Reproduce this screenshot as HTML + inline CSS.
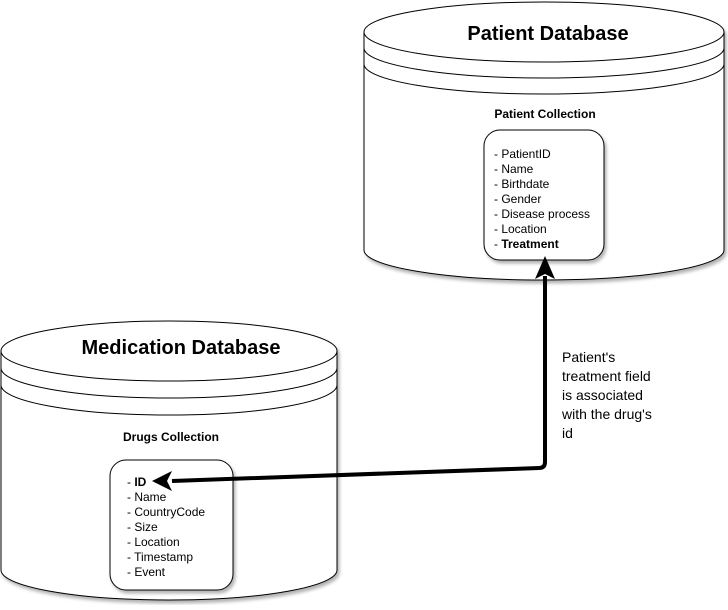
<!DOCTYPE html>
<html><head><style>body{margin:0;background:#fff}</style></head><body>
<svg width="728" height="605" viewBox="0 0 728 605" xmlns="http://www.w3.org/2000/svg" font-family="Liberation Sans, sans-serif">
<defs><filter id="s" x="-5%" y="-5%" width="115%" height="115%"><feDropShadow dx="2" dy="3" stdDeviation="1.5" flood-opacity="0.3"/></filter></defs>
<g fill="#fff" stroke="#000" stroke-width="1">
<g filter="url(#s)">
<path d="M364,32 A180,30 0 0 1 724,32 L724,250 A180,30 0 0 1 364,250 Z"/>
</g>
<path d="M364,32 A180,30 0 0 0 724,32" fill="none"/>
<path d="M364,48 A180,30 0 0 0 724,48" fill="none"/>
<path d="M364,64 A180,30 0 0 0 724,64" fill="none"/>
<g filter="url(#s)">
<path d="M1,351 A168,30 0 0 1 337,351 L337,570 A168,30 0 0 1 1,570 Z"/>
</g>
<path d="M1,351 A168,30 0 0 0 337,351" fill="none"/>
<path d="M1,368 A168,30 0 0 0 337,368" fill="none"/>
<path d="M1,385 A168,30 0 0 0 337,385" fill="none"/>
<rect x="484" y="130" width="120" height="130" rx="16" filter="url(#s)"/>
<rect x="110" y="460" width="123" height="130" rx="16" filter="url(#s)"/>
</g>
<g font-weight="bold" text-anchor="middle">
<text x="548" y="40" font-size="20">Patient Database</text>
<text x="545" y="118" font-size="12">Patient Collection</text>
<text x="181" y="354" font-size="20">Medication Database</text>
<text x="171" y="441" font-size="12">Drugs Collection</text>
</g>
<g font-size="12">
<text x="494" y="158">- PatientID</text>
<text x="494" y="173">- Name</text>
<text x="494" y="188">- Birthdate</text>
<text x="494" y="203">- Gender</text>
<text x="494" y="218">- Disease process</text>
<text x="494" y="233">- Location</text>
<text x="494" y="248">- <tspan font-weight="bold">Treatment</tspan></text>
<text x="127" y="486">- <tspan font-weight="bold">ID</tspan></text>
<text x="127" y="501">- Name</text>
<text x="127" y="516">- CountryCode</text>
<text x="127" y="531">- Size</text>
<text x="127" y="546">- Location</text>
<text x="127" y="561">- Timestamp</text>
<text x="127" y="576">- Event</text>
</g>
<g font-size="14">
<text x="562" y="362">Patient's</text>
<text x="562" y="381">treatment field</text>
<text x="562" y="400">is associated</text>
<text x="562" y="419">with the drug's</text>
<text x="562" y="438">id</text>
</g>
<path d="M545,276 L545,462 Q545,468 539,468 L172,481" fill="none" stroke="#000" stroke-width="4"/>
<path d="M545,256 L555,279 L545,274 L535,279 Z" fill="#000"/>
<path d="M152,481 L172,471 L167,481 L172,491 Z" fill="#000"/>
</svg>
</body></html>
